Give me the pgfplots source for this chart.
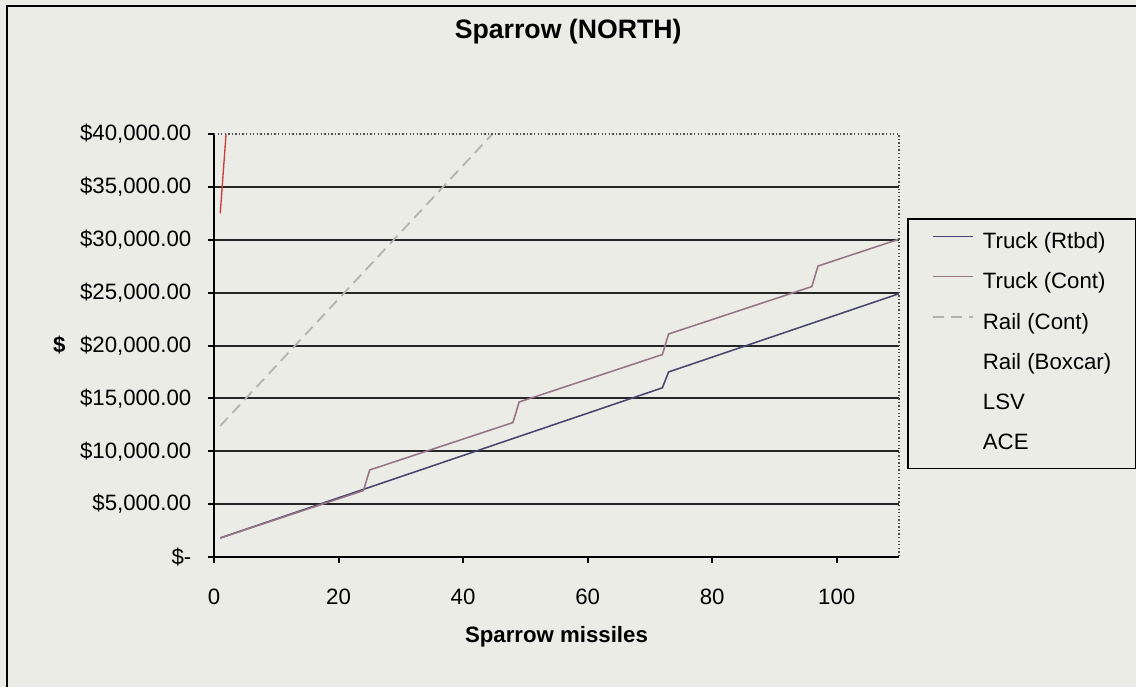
\documentclass[border=0pt]{standalone}
\usepackage{fontspec}
\setmainfont{Liberation Sans}
\usepackage{pgfplots}
\pgfplotsset{compat=1.18}
\definecolor{bg}{RGB}{236,236,231}
\definecolor{rtbd}{RGB}{72,70,108}
\definecolor{tcont}{RGB}{150,116,134}
\definecolor{railc}{RGB}{178,178,174}
\definecolor{ace}{RGB}{205,60,60}
\begin{document}
\begin{tikzpicture}
% page: 1136 x 687 px, 1 px = 0.45pt
\path[fill=bg, use as bounding box] (0,0) rectangle (511.2pt,-309.15pt);
\draw[line width=0.7pt] (3.15pt,-309.15pt) -- (3.15pt,-2.7pt) -- (511.2pt,-2.7pt);
\begin{axis}[
  scale only axis, width=308.25pt, height=190.35pt,
  at={(96.3pt,-250.65pt)}, anchor=south west,
  xmin=0, xmax=110, ymin=0, ymax=40000,
  axis x line*=bottom, axis y line*=left,
  axis line style={line width=0.9pt, -},
  xtick={0,20,...,100},
  ytick={0,5000,...,35000},
  yticklabels={\$-,\$5{,}000.00,\$10{,}000.00,\$15{,}000.00,\$20{,}000.00,\$25{,}000.00,\$30{,}000.00,\$35{,}000.00},
  extra y ticks={40000}, extra y tick labels={\$40{,}000.00},
  extra y tick style={grid=none},
  scaled y ticks=false,
  ymajorgrids, grid style={line width=0.9pt, black!85},
  tick align=outside, major tick length=2.7pt,
  tick style={line width=0.9pt, black},
  /pgf/number format/assume math mode=true,
  tick label style={font=\fontsize{10}{12}\selectfont},
  xticklabel style={yshift=-8pt},
  yticklabel style={xshift=-4pt},
  title={Sparrow (NORTH)},
  title style={font=\bfseries\fontsize{12}{14}\selectfont, at={(axis description cs:0.517,1.210)}, anchor=center},
  xlabel={Sparrow missiles},
  xlabel style={font=\bfseries\fontsize{10}{12}\selectfont, at={(axis description cs:0.5,-0.189)}, anchor=center},
  ylabel={\$},
  ylabel style={font=\bfseries\fontsize{10}{12}\selectfont, rotate=-90, at={(axis description cs:-0.226,0.5)}, anchor=center},
  legend cell align=left,
  legend image code/.code={\draw[#1] (0pt,3pt) -- (18pt,3pt);},
  legend style={at={(axis description cs:1.0117,0.8014)}, anchor=north west,
    draw=black, line width=0.7pt, fill=bg,
    inner xsep=11pt, inner ysep=6.2pt, row sep=8.7pt, column sep=4pt,
    font=\fontsize{10}{12}\selectfont,
    nodes={inner sep=0pt, text height=7.2pt, text depth=2.2pt}},
  after end axis/.code={
    \draw[black!70, line width=0.6pt, densely dotted] (rel axis cs:0,1) -- (rel axis cs:1,1) -- (rel axis cs:1,0);
  },
]
% Truck (Rtbd)
\addplot[rtbd, line width=0.7pt] coordinates {(1,1800) (72,16000) (73,17500) (110,24900)};
\addlegendentry{Truck (Rtbd)}
% Truck (Cont)
\addplot[tcont, line width=0.7pt] coordinates {
  (1,1800) (24,6285) (25,8230) (48,12715) (49,14660)
  (72,19145) (73,21090) (96,25575) (97,27520) (110,30055)};
\addlegendentry{Truck (Cont)}
% Rail (Cont)
\addplot[railc, line width=0.8pt, dash pattern=on 5pt off 3pt] coordinates {(1,12400) (44.7,40000)};
\addlegendentry{Rail (Cont)}
\addlegendimage{opacity=0}
\addlegendentry{Rail (Boxcar)}
\addlegendimage{opacity=0}
\addlegendentry{LSV}
% ACE
\addplot[ace, line width=0.6pt, forget plot] coordinates {(1,32500) (2,40500)};
\addlegendimage{opacity=0}
\addlegendentry{ACE}
\end{axis}
\end{tikzpicture}
\end{document}
